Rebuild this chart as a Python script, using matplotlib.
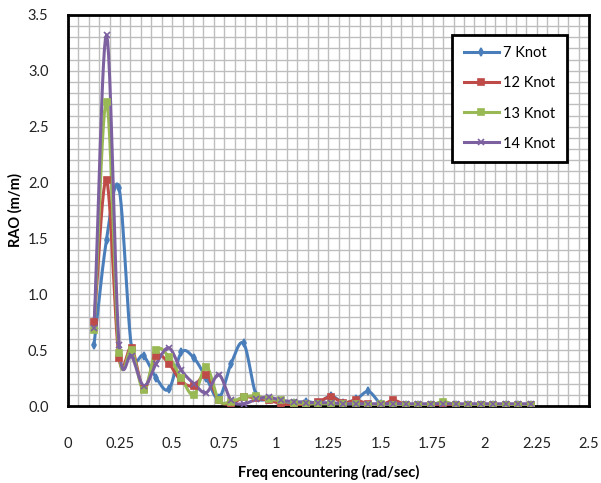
import numpy as np
import matplotlib
matplotlib.use("Agg")
import matplotlib.pyplot as plt
from matplotlib.ticker import MultipleLocator, FixedLocator, FixedFormatter

# ---- data ----
freq = [0.125, 0.185, 0.245, 0.305, 0.364, 0.424, 0.484, 0.544, 0.604, 0.664,
        0.724, 0.783, 0.843, 0.903, 0.963, 1.023, 1.083, 1.143, 1.202, 1.262,
        1.322, 1.382, 1.442, 1.502, 1.562, 1.622, 1.681, 1.741, 1.801, 1.861,
        1.921, 1.981, 2.040, 2.100, 2.160, 2.220]

rao_7 = [0.55, 1.49, 1.95, 0.52, 0.45, 0.25, 0.15, 0.48, 0.43, 0.25,
         0.07, 0.38, 0.56, 0.10, 0.06, 0.04, 0.03, 0.04, 0.03, 0.09,
         0.03, 0.06, 0.13, 0.02, 0.02, 0.01, 0.01, 0.01, 0.01, 0.01,
         0.01, 0.01, 0.01, 0.01, 0.01, 0.01]
rao_12 = [0.75, 2.02, 0.43, 0.52, 0.15, 0.45, 0.38, 0.22, 0.18, 0.28,
          0.05, 0.02, 0.08, 0.07, 0.05, 0.02, 0.00, 0.01, 0.04, 0.08,
          0.03, 0.05, 0.02, 0.01, 0.05, 0.01, 0.01, 0.01, 0.00, 0.01,
          0.01, 0.01, 0.01, 0.01, 0.01, 0.01]
rao_13 = [0.68, 2.72, 0.47, 0.50, 0.14, 0.50, 0.44, 0.25, 0.10, 0.35,
          0.05, 0.04, 0.08, 0.09, 0.06, 0.05, 0.03, 0.02, 0.02, 0.02,
          0.02, 0.02, 0.01, 0.02, 0.01, 0.01, 0.01, 0.01, 0.04, 0.01,
          0.01, 0.01, 0.01, 0.01, 0.01, 0.01]
rao_14 = [0.70, 3.32, 0.55, 0.45, 0.18, 0.38, 0.52, 0.32, 0.20, 0.12,
          0.28, 0.05, 0.02, 0.06, 0.08, 0.05, 0.04, 0.03, 0.03, 0.03,
          0.02, 0.02, 0.02, 0.02, 0.02, 0.02, 0.02, 0.02, 0.02, 0.02,
          0.02, 0.02, 0.02, 0.02, 0.02, 0.02]

series_labels = ["7 Knot", "12 Knot", "13 Knot", "14 Knot"]
x_ticks = [0, 0.25, 0.5, 0.75, 1, 1.25, 1.5, 1.75, 2, 2.25, 2.5]
x_tick_labels = ["0", "0.25", "0.5", "0.75", "1", "1.25", "1.5", "1.75", "2", "2.25", "2.5"]
y_ticks = [0.0, 0.5, 1.0, 1.5, 2.0, 2.5, 3.0, 3.5]
y_tick_labels = ["0.0", "0.5", "1.0", "1.5", "2.0", "2.5", "3.0", "3.5"]

colors = ["#4A7EBB", "#BE4B48", "#98B954", "#7D60A0"]
markers = ["d", "s", "s", "x"]
msizes = [4, 5, 5, 5]

plt.rcParams['font.family'] = ['Lato', 'DejaVu Sans']


def smooth(x, y, n=12):
    """Catmull-Rom style smoothed drawing path through the data points."""
    x = np.asarray(x, float)
    y = np.asarray(y, float)
    px = np.concatenate([[2 * x[0] - x[1]], x, [2 * x[-1] - x[-2]]])
    py = np.concatenate([[2 * y[0] - y[1]], y, [2 * y[-1] - y[-2]]])
    xs, ys = [], []
    t = np.linspace(0, 1, n, endpoint=False)
    for i in range(1, len(px) - 2):
        p0x, p1x, p2x, p3x = px[i - 1:i + 3]
        p0y, p1y, p2y, p3y = py[i - 1:i + 3]
        t2, t3 = t * t, t * t * t
        xs.append(0.5 * ((2 * p1x) + (-p0x + p2x) * t + (2 * p0x - 5 * p1x + 4 * p2x - p3x) * t2
                         + (-p0x + 3 * p1x - 3 * p2x + p3x) * t3))
        ys.append(0.5 * ((2 * p1y) + (-p0y + p2y) * t + (2 * p0y - 5 * p1y + 4 * p2y - p3y) * t2
                         + (-p0y + 3 * p1y - 3 * p2y + p3y) * t3))
    xs.append([x[-1]])
    ys.append([y[-1]])
    return np.concatenate(xs), np.concatenate(ys)


fig = plt.figure(figsize=(6.01, 4.83), dpi=100)
ax = fig.add_axes([0.1131, 0.1594, 0.8669, 0.8096])

for vals, lab, c, m, ms in zip([rao_7, rao_12, rao_13, rao_14], series_labels, colors, markers, msizes):
    sx, sy = smooth(freq, vals)
    ax.plot(sx, sy, color=c, lw=2.2, solid_capstyle='round', zorder=3)
    ax.plot(freq, vals, linestyle='none', marker=m, color=c, markersize=ms,
            markeredgewidth=1.2, zorder=4)
    ax.plot([], [], color=c, lw=2.2, marker=m, markersize=ms, markeredgewidth=1.2, label=lab)

ax.set_xlim(0, 2.5)
ax.set_ylim(0, 3.5)
ax.xaxis.set_major_locator(FixedLocator(x_ticks))
ax.xaxis.set_major_formatter(FixedFormatter(x_tick_labels))
ax.yaxis.set_major_locator(FixedLocator(y_ticks))
ax.yaxis.set_major_formatter(FixedFormatter(y_tick_labels))
ax.xaxis.set_minor_locator(MultipleLocator(0.05))
ax.yaxis.set_minor_locator(MultipleLocator(0.1))
ax.grid(True, which='both', color='#BEBEBE', lw=1.0, zorder=0)
ax.set_axisbelow(True)
ax.tick_params(which='both', length=0)
ax.tick_params(axis='x', pad=22, labelsize=10.5, colors='#222222')
ax.tick_params(axis='y', pad=14, labelsize=10.5, colors='#222222')
for s in ax.spines.values():
    s.set_linewidth(2.0)
    s.set_color('black')

ax.set_xlabel("Freq encountering (rad/sec)", fontsize=10.5, fontweight='bold', labelpad=10)
ax.set_ylabel("RAO (m/m)", fontsize=10.5, fontweight='bold', labelpad=4)

leg = ax.legend(loc='upper right', bbox_to_anchor=(0.972, 0.968), fontsize=10.5,
                frameon=True, fancybox=False, edgecolor='black', framealpha=1,
                handlelength=2.4, labelspacing=1.1, borderpad=0.8, handletextpad=0.3)
leg.get_frame().set_linewidth(2.0)

fig.savefig("out.png", dpi=100)
